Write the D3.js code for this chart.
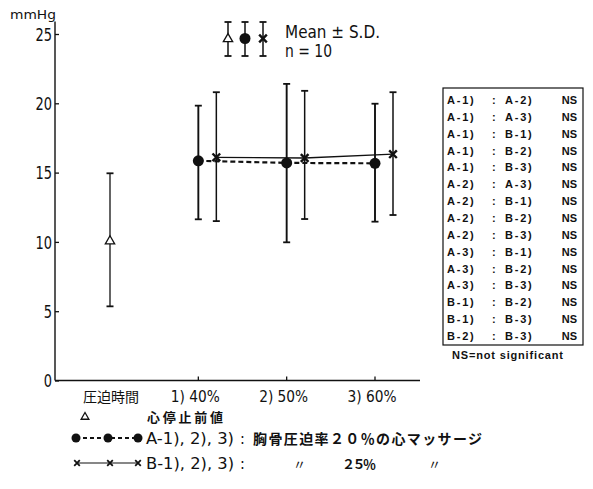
<!DOCTYPE html>
<html>
<head>
<meta charset="utf-8">
<script src="https://cdn.jsdelivr.net/npm/d3@7"></script>
<style>
  html, body { margin: 0; padding: 0; background: #fff; }
  svg { display: block; }
  .num { font-family: "Liberation Sans Narrow", "DejaVu Sans Condensed", "DejaVu Sans", sans-serif; }
  .jp { font-family: "Noto Sans CJK JP", sans-serif; }
  .tbl { font-family: "Liberation Sans", Arial, sans-serif; }
</style>
</head>
<body>
<script>
// Categories along the x axis
const categories = ["圧迫時間", "1) 40%", "2) 50%", "3) 60%"];

// Pre-arrest value (triangle), mean with upper / lower S.D. limits
const preMean = [10.05];
const preUpper = [14.95];
const preLower = [5.35];

// Series A: sternal compression 20% (filled circles, dashed line)
const aCats = ["1) 40%", "2) 50%", "3) 60%"];
const aMean = [15.85, 15.7, 15.67];
const aUpper = [19.83, 21.4, 19.97];
const aLower = [11.63, 9.97, 11.46];

// Series B: sternal compression 25% (crosses, solid line)
const bMean = [16.1, 16.05, 16.33];
const bUpper = [20.8, 20.9, 20.8];
const bLower = [11.5, 11.65, 11.94];

// y-axis ticks
const yTicks = [0, 5, 10, 15, 20, 25];

// Pairwise comparisons table
const pairLeft = ["A-1)", "A-1)", "A-1)", "A-1)", "A-1)", "A-2)", "A-2)", "A-2)", "A-2)", "A-3)", "A-3)", "A-3)", "B-1)", "B-1)", "B-2)"];
const pairRight = ["A-2)", "A-3)", "B-1)", "B-2)", "B-3)", "A-3)", "B-1)", "B-2)", "B-3)", "B-1)", "B-2)", "B-3)", "B-2)", "B-3)", "B-3)"];
const pairResult = pairLeft.map(() => "NS");

const W = 593, H = 489;
const svg = d3.select("body").append("svg").attr("width", W).attr("height", H);

const x = d3.scalePoint().domain(categories).range([110, 375]);
const y = d3.scaleLinear().domain([0, 25]).range([380.5, 34]);
const bShift = 18;

const ink = "#111";

// squeeze a text horizontally to a given length (narrow typeface look)
function fit(sel, len, adjust) {
  sel.attr("textLength", len).attr("lengthAdjust", adjust || "spacingAndGlyphs");
  return sel;
}
function squeeze(sel, k) {
  sel.each(function () {
    const w = this.getComputedTextLength();
    d3.select(this).attr("textLength", w * k).attr("lengthAdjust", "spacingAndGlyphs");
  });
}

// Axes
const yAxis = d3.axisLeft(y).tickValues(yTicks).tickSize(-4).tickPadding(3).tickSizeOuter(0);
const gy = svg.append("g").attr("transform", "translate(55,0)").call(yAxis);
gy.select(".domain").remove();
gy.selectAll(".tick line").attr("stroke", ink).attr("stroke-width", 1.3);
gy.selectAll(".tick text").attr("class", "num").attr("font-size", 17).attr("fill", ink)
  .attr("font-family", null).attr("dy", "0.36em");
squeeze(gy.selectAll(".tick text"), 0.85);
svg.append("line").attr("x1", 55).attr("x2", 55).attr("y1", y(0)).attr("y2", y(25.9))
  .attr("stroke", ink).attr("stroke-width", 1.4);

svg.append("line").attr("x1", 55).attr("x2", 420).attr("y1", y(0)).attr("y2", y(0))
  .attr("stroke", ink).attr("stroke-width", 1.6);
svg.append("g").selectAll("line").data(aCats).join("line")
  .attr("x1", d => x(d)).attr("x2", d => x(d))
  .attr("y1", y(0)).attr("y2", y(0) - 4)
  .attr("stroke", ink).attr("stroke-width", 1.3);

const xl = svg.append("g").selectAll("text").data(categories).join("text")
  .attr("class", (d, i) => i === 0 ? "jp" : "num")
  .attr("x", (d, i) => x(d) + (i === 0 ? 1 : -3)).attr("y", 402)
  .attr("text-anchor", "middle")
  .attr("font-size", (d, i) => i === 0 ? 14 : 16)
  .attr("fill", ink)
  .text(d => d);
xl.filter((d, i) => i > 0).call(s => fit(s, 49));

fit(svg.append("text").attr("class", "num").attr("x", 10).attr("y", 19)
  .attr("font-size", 13).attr("fill", ink).text("mmHg"), 46);

// Error bar helper
function errorBar(g, cx, lo, hi, cap, width) {
  g.append("line").attr("x1", cx).attr("x2", cx).attr("y1", lo).attr("y2", hi)
    .attr("stroke", ink).attr("stroke-width", width);
  [lo, hi].forEach(v => g.append("line")
    .attr("x1", cx - cap).attr("x2", cx + cap).attr("y1", v).attr("y2", v)
    .attr("stroke", ink).attr("stroke-width", 1.8));
}

const gBars = svg.append("g");
preMean.forEach((m, i) => errorBar(gBars, x(categories[0]), y(preLower[i]), y(preUpper[i]), 3.5, 1.3));
aCats.forEach((c, i) => errorBar(gBars, x(c), y(aLower[i]), y(aUpper[i]), 3.5, 1.9));
aCats.forEach((c, i) => errorBar(gBars, x(c) + bShift, y(bLower[i]), y(bUpper[i]), 3.5, 1.5));

// Lines
svg.append("path")
  .attr("d", d3.line().x((d, i) => x(aCats[i]) + bShift).y(d => y(d))(bMean))
  .attr("fill", "none").attr("stroke", ink).attr("stroke-width", 1.4);
svg.append("path")
  .attr("d", d3.line().x((d, i) => x(aCats[i])).y(d => y(d))(aMean))
  .attr("fill", "none").attr("stroke", ink).attr("stroke-width", 2.2).attr("stroke-dasharray", "5,3");

// Markers
const crossSym = d3.symbol().type(d3.symbolX).size(40);

function drawTriangle(g, cx, cy, size) {
  g.append("path").attr("d", d3.symbol().type(d3.symbolTriangle).size(size || 38)())
    .attr("transform", `translate(${cx},${cy})`)
    .attr("fill", "#fff").attr("stroke", ink).attr("stroke-width", 1.3);
}
function drawDot(g, cx, cy, r) {
  g.append("circle").attr("cx", cx).attr("cy", cy).attr("r", r).attr("fill", ink);
}
function drawCross(g, cx, cy) {
  g.append("path").attr("d", crossSym()).attr("transform", `translate(${cx},${cy})`)
    .attr("fill", "none").attr("stroke", ink).attr("stroke-width", 2.4);
}

const gMarks = svg.append("g");
preMean.forEach(m => drawTriangle(gMarks, x(categories[0]), y(m)));
aMean.forEach((m, i) => drawDot(gMarks, x(aCats[i]), y(m), 5.5));
bMean.forEach((m, i) => drawCross(gMarks, x(aCats[i]) + bShift, y(m)));

// Key at the top: mean ± S.D. glyphs
const gKey = svg.append("g");
errorBar(gKey, 228, 56, 22, 3.5, 1.5);
errorBar(gKey, 245, 56, 22, 3.5, 1.5);
errorBar(gKey, 263, 56, 22, 3.5, 1.5);
drawTriangle(gKey, 228, 39);
drawDot(gKey, 245, 38.5, 5.5);
drawCross(gKey, 263, 38.5);
fit(gKey.append("text").attr("class", "num").attr("x", 285).attr("y", 38)
  .attr("font-size", 17).attr("fill", ink).text("Mean ± S.D."), 95);
fit(gKey.append("text").attr("class", "num").attr("x", 285).attr("y", 57)
  .attr("font-size", 17).attr("fill", ink).text("n = 10"), 47);

// Comparison table
const gT = svg.append("g");
gT.append("rect").attr("x", 443).attr("y", 88).attr("width", 140).attr("height", 257)
  .attr("fill", "none").attr("stroke", ink).attr("stroke-width", 1.2);
const rowY = i => 104 + i * 16.86;
pairLeft.forEach((d, i) => {
  gT.append("text").attr("class", "tbl").style("font-weight", "bold").attr("x", 447).attr("y", rowY(i)).attr("font-size", 11)
    .attr("letter-spacing", 1.8).attr("fill", ink).text(d);
  gT.append("text").attr("class", "tbl").style("font-weight", "bold").attr("x", 492).attr("y", rowY(i)).attr("font-size", 11)
    .attr("fill", ink).text(":");
  gT.append("text").attr("class", "tbl").style("font-weight", "bold").attr("x", 505).attr("y", rowY(i)).attr("font-size", 11)
    .attr("letter-spacing", 1.8).attr("fill", ink).text(pairRight[i]);
  gT.append("text").attr("class", "tbl").style("font-weight", "bold").attr("x", 577).attr("y", rowY(i)).attr("font-size", 11)
    .attr("text-anchor", "end").attr("fill", ink).text(pairResult[i]);
});
fit(gT.append("text").attr("class", "tbl").style("font-weight", "600").attr("x", 452).attr("y", 359).attr("font-size", 11)
  .attr("fill", ink).text("NS=not significant"), 111, "spacing");

// Bottom legend
const gL = svg.append("g");
drawTriangle(gL, 85, 417, 26);
fit(gL.append("text").attr("class", "jp").style("font-weight", "bold").attr("x", 147).attr("y", 422).attr("font-size", 13)
  .attr("fill", ink).text("心停止前値"), 76, "spacing");

gL.append("line").attr("x1", 76).attr("x2", 138).attr("y1", 438).attr("y2", 438)
  .attr("stroke", ink).attr("stroke-width", 1.8).attr("stroke-dasharray", "4,3");
[76, 108, 138].forEach(cx => drawDot(gL, cx, 438, 4.5));
fit(gL.append("text").attr("class", "num").attr("x", 146).attr("y", 444).attr("font-size", 16)
  .attr("fill", ink).text("A-1), 2), 3)"), 88);
gL.append("text").attr("class", "num").attr("x", 240).attr("y", 444).attr("font-size", 16)
  .attr("fill", ink).text(":");
fit(gL.append("text").attr("class", "jp").style("font-weight", "bold").attr("x", 253).attr("y", 444).attr("font-size", 14)
  .attr("fill", ink).text("胸骨圧迫率２０％の心マッサージ"), 229, "spacing");

gL.append("line").attr("x1", 77).attr("x2", 138).attr("y1", 463).attr("y2", 463)
  .attr("stroke", ink).attr("stroke-width", 1.1);
const smallX = d3.symbol().type(d3.symbolX).size(22);
[77, 110, 138].forEach(cx => gL.append("path").attr("d", smallX())
  .attr("transform", `translate(${cx},463)`).attr("fill", "none").attr("stroke", ink).attr("stroke-width", 1.8));
fit(gL.append("text").attr("class", "num").attr("x", 146).attr("y", 469).attr("font-size", 16)
  .attr("fill", ink).text("B-1), 2), 3)"), 88);
gL.append("text").attr("class", "num").attr("x", 240).attr("y", 469).attr("font-size", 16)
  .attr("fill", ink).text(":");
gL.append("text").attr("class", "jp").attr("x", 293).attr("y", 469).attr("font-size", 13)
  .attr("fill", ink).text("〃");
fit(gL.append("text").attr("class", "jp").style("font-weight", "bold").attr("x", 342).attr("y", 469).attr("font-size", 13)
  .attr("fill", ink).text("２５％"), 34, "spacing");
gL.append("text").attr("class", "jp").attr("x", 428).attr("y", 469).attr("font-size", 13)
  .attr("fill", ink).text("〃");
</script>
</body>
</html>
